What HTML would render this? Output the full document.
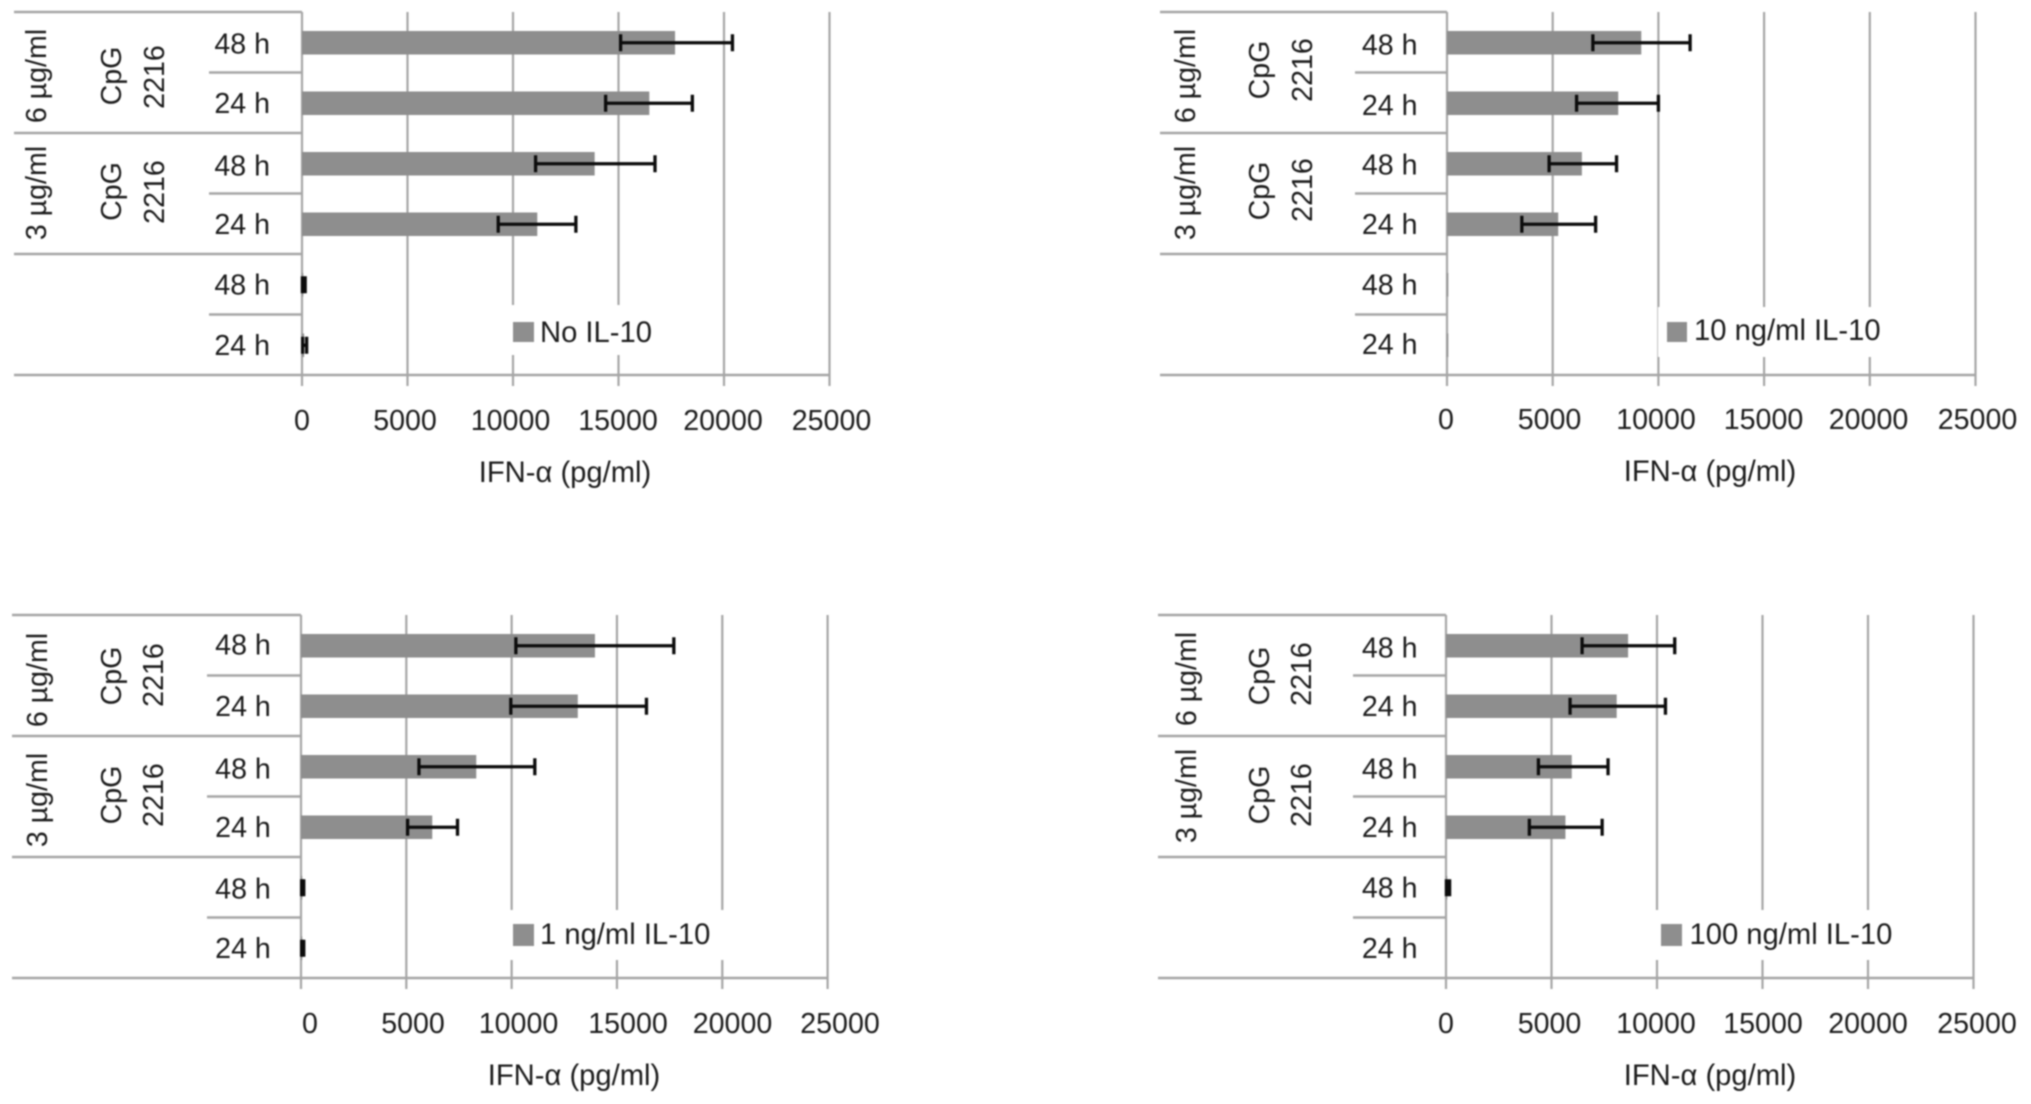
<!DOCTYPE html>
<html lang="en">
<head>
<meta charset="utf-8">
<title>IFN-α response to CpG 2216 with IL-10</title>
<style>
html,body{margin:0;padding:0;background:#fff;width:2031px;height:1104px;overflow:hidden}
svg{display:block;filter:blur(0.7px)}
text{font-family:"Liberation Sans",sans-serif;font-size:28.6px;fill:#1c1c1c}
text.wide{font-size:29.2px}
</style>
</head>
<body>
<svg id="figure" xmlns="http://www.w3.org/2000/svg" width="2031" height="1104" viewBox="0 0 2031 1104"></svg>
<script>
const timeCategories = ['48 h', '24 h', '48 h', '24 h', '48 h', '24 h'];
const doseLabels = ['6 µg/ml', '3 µg/ml'];
const agentLabels = ['CpG', '2216'];
const axisTicks = [0, 5000, 10000, 15000, 20000, 25000];
const axisTitle = 'IFN-α (pg/ml)';

const noIl10Means = [17680, 16460, 13870, 11150, 60, 100];
const noIl10Low = [15100, 14390, 11070, 9300, 20, 30];
const noIl10High = [20400, 18500, 16730, 12980, 150, 220];

const il10At10Means = [9190, 8100, 6380, 5260, 60, 60];
const il10At10Low = [6900, 6130, 4830, 3540, 60, 60];
const il10At10High = [11500, 10000, 8020, 7030, 60, 60];

const il10At1Means = [13955, 13140, 8320, 6230, 60, 60];
const il10At1Low = [10200, 9960, 5600, 5060, 30, 30];
const il10At1High = [17700, 16400, 11100, 7430, 130, 130];

const il10At100Means = [8630, 8090, 5960, 5660, 60, 0];
const il10At100Low = [6450, 5880, 4380, 3950, 20, 0];
const il10At100High = [10840, 10400, 7680, 7400, 170, 0];

const panelLayouts = [
  {id:'no-il10', legend:'No IL-10', means:noIl10Means, low:noIl10Low, high:noIl10High,
   x0:302, x1:829.5, left:14, sub:209, top:12, base:375, timeX:242.2, timeNudge:[1,0,2,0,0,0],
   doseX:37, cpgX:112, numX:155, doseY:[76,193], cpgY:[76,191.5], numY:[77,192],
   tickX:[302,405,510.5,618,723,831.5], tickY:420, titleX:565, titleY:472,
   box:[509,305,149,50], swatch:[513,322,21,20], legendX:540, legendY:332},
  {id:'10-ng-il10', legend:'10 ng/ml IL-10', means:il10At10Means, low:il10At10Low, high:il10At10High,
   x0:1447, x1:1975.5, left:1160, sub:1355, top:12, base:375, timeX:1389.7, timeNudge:[2,2,1,0,0,-1],
   doseX:1186, cpgX:1260, numX:1303, doseY:[76,193], cpgY:[70,191], numY:[70,190],
   tickX:[1446,1549.5,1656,1763.5,1868.5,1977.5], tickY:419, titleX:1710, titleY:471,
   box:[1658,307,225,50], swatch:[1667,322,20,20], legendX:1694, legendY:330},
  {id:'1-ng-il10', legend:'1 ng/ml IL-10', means:il10At1Means, low:il10At1Low, high:il10At1High,
   x0:301, x1:827.6, left:12, sub:207, top:615, base:978, timeX:243, timeNudge:[-1,0,2,0,1,0],
   doseX:38, cpgX:112, numX:154, doseY:[680,800], cpgY:[676,795], numY:[675,795],
   tickX:[310,413,518.5,628,732.5,840], tickY:1023, titleX:574, titleY:1075,
   box:[508,910,220,50], swatch:[513,924,21,22], legendX:540, legendY:934},
  {id:'100-ng-il10', legend:'100 ng/ml IL-10', means:il10At100Means, low:il10At100Low, high:il10At100High,
   x0:1446, x1:1973.5, left:1158, sub:1353, top:615, base:978, timeX:1389.7, timeNudge:[2,0,2,0,0,0],
   doseX:1187, cpgX:1260, numX:1302, doseY:[679,796], cpgY:[676,795], numY:[674,795],
   tickX:[1446,1549.5,1656,1763,1868,1977], tickY:1023, titleX:1710, titleY:1075,
   box:[1652,910,230,50], swatch:[1661,924,21,22], legendX:1689.5, legendY:934}
];

const SVGNS = 'http://www.w3.org/2000/svg';
const GRID = '#a6a6a6';
const BAR = '#8e8e8e';

function make(tag, attrs, parent, content) {
  const node = document.createElementNS(SVGNS, tag);
  for (const key in attrs) node.setAttribute(key, attrs[key]);
  if (content !== undefined) node.textContent = content;
  parent.appendChild(node);
  return node;
}

function drawPanel(p) {
  const figure = document.getElementById('figure');
  const xScale = v => p.x0 + (v / 25000) * (p.x1 - p.x0);
  const bandH = (p.base - p.top) / timeCategories.length;
  const bandY = i => p.top + bandH * (i + 0.5);

  const g = make('g', {}, figure);
  
  

  axisTicks.forEach((t, i) => {
    const x = xScale(t);
    const grid = make('line', {x1:x, x2:x, y1:p.top, y2:p.base + 11, stroke:GRID, 'stroke-width':2.2}, g);
    
    
    const lab = make('text', {x:p.tickX[i], y:p.tickY + 10, 'text-anchor':'middle'}, g, String(t));
    
    
  });

  const baseLine = make('line', {x1:p.left, x2:p.x1, y1:p.base, y2:p.base, stroke:GRID, 'stroke-width':2.4}, g);
  
  

  const topLine = make('line', {x1:p.left, x2:p.x0, y1:p.top, y2:p.top, stroke:GRID, 'stroke-width':2.4}, g);
  
  

  timeCategories.forEach((c, i) => {
    if (i === timeCategories.length - 1) return;
    const y = p.top + bandH * (i + 1);
    const major = (i % 2 === 1);
    const sep = make('line', {x1: major ? p.left : p.sub, x2:p.x0, y1:y, y2:y, stroke:GRID, 'stroke-width':2.4}, g);
    
    
  });

  const legendBox = make('rect', {x:p.box[0], y:p.box[1], width:p.box[2], height:p.box[3], fill:'#fff'}, g);
  
  

  const barHeight = 23.5;
  p.means.forEach((m, i) => {
    const cy = bandY(i) + 0.5;
    if (m > 0) {
      const bar = make('rect', {x:p.x0, y:cy - barHeight / 2, width:xScale(m) - p.x0, height:barHeight, fill:BAR}, g);
      
      
    }
    if (p.high[i] > p.low[i]) {
      const lo = xScale(p.low[i]);
      const hi = xScale(p.high[i]);
      const err = make('line', {x1:lo, x2:hi, y1:cy, y2:cy, stroke:'#0c0c0c', 'stroke-width':3.3}, g);
      
      
      const capLo = make('line', {x1:lo, x2:lo, y1:cy - 8.5, y2:cy + 8.5, stroke:'#0c0c0c', 'stroke-width':3.3}, g);
      
      
      const capHi = make('line', {x1:hi, x2:hi, y1:cy - 8.5, y2:cy + 8.5, stroke:'#0c0c0c', 'stroke-width':3.3}, g);
      
      
    }
    const timeLabel = make('text', {x:p.timeX, y:bandY(i) + p.timeNudge[i] + 10, 'text-anchor':'middle'}, g, timeCategories[i]);
    
    
  });

  doseLabels.forEach((d, i) => {
    const dose = make('text', {x:p.doseX, y:p.doseY[i], 'text-anchor':'middle', 'dominant-baseline':'central', transform:'rotate(-90 ' + p.doseX + ' ' + p.doseY[i] + ')'}, g, d);
    
    
    const cpg = make('text', {x:p.cpgX, y:p.cpgY[i], 'text-anchor':'middle', 'dominant-baseline':'central', transform:'rotate(-90 ' + p.cpgX + ' ' + p.cpgY[i] + ')'}, g, agentLabels[0]);
    
    
    const num = make('text', {x:p.numX, y:p.numY[i], 'text-anchor':'middle', 'dominant-baseline':'central', transform:'rotate(-90 ' + p.numX + ' ' + p.numY[i] + ')'}, g, agentLabels[1]);
    
    
  });

  const swatch = make('rect', {x:p.swatch[0], y:p.swatch[1], width:p.swatch[2], height:p.swatch[3], fill:BAR}, g);
  
  

  const legendText = make('text', {x:p.legendX, y:p.legendY + 10, class:'wide'}, g, p.legend);
  
  

  const title = make('text', {x:p.titleX, y:p.titleY + 10, 'text-anchor':'middle', class:'wide'}, g, axisTitle);
  
  
}

panelLayouts.forEach(drawPanel);
</script>
</body>
</html>
